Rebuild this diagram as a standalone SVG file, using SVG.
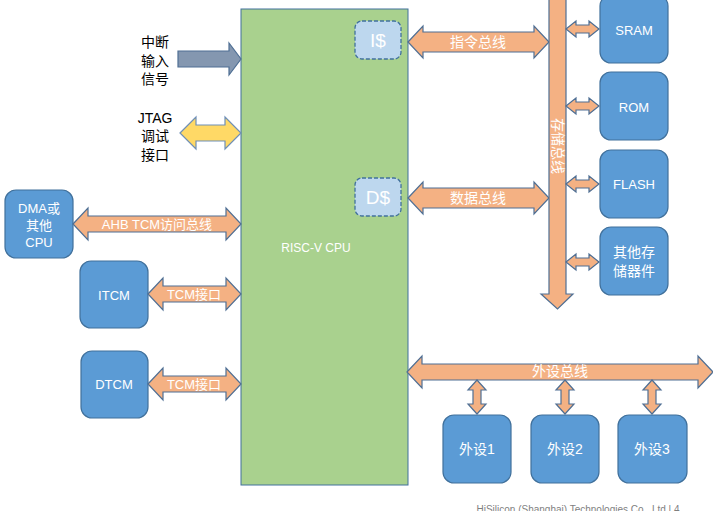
<svg xmlns="http://www.w3.org/2000/svg" width="713" height="511" viewBox="0 0 713 511">
<style>
text{font-family:"Liberation Sans","Noto Sans CJK SC",sans-serif;text-anchor:middle;dominant-baseline:central}
.box{fill:#5B9BD5;stroke:#41719C;stroke-width:1.2}
.wt{fill:#fff;font-size:13px}
.bus{fill:#F4B183;stroke:#4F6F94;stroke-width:1.2}
.bt{fill:#fff;font-size:14px}
.bk{fill:#000;font-size:14px}
.cache{fill:#BDD7EE;stroke:#41719C;stroke-width:1.3;stroke-dasharray:4 2}
</style>
<rect width="713" height="511" fill="#fff"/>
<g id="cpu">
<rect x="241" y="9" width="167" height="476" fill="#A9D18E" stroke="#41719C" stroke-width="1"/>
<text x="316" y="248" class="wt" style="font-size:12px">RISC-V CPU</text>
</g>
<g id="icache">
<rect x="355" y="21" width="46" height="38" rx="7" class="cache"/>
<text x="378" y="40" class="wt" style="font-size:19px">I$</text>
</g>
<g id="dcache">
<rect x="355" y="178" width="46" height="38" rx="7" class="cache"/>
<text x="378" y="197" class="wt" style="font-size:19px">D$</text>
</g>
<g id="sram"><rect x="600" y="-5" width="68" height="68" rx="11" class="box"/><text x="634" y="30" class="wt">SRAM</text></g>
<g id="rom"><rect x="600" y="72" width="68" height="68" rx="11" class="box"/><text x="634" y="107" class="wt">ROM</text></g>
<g id="flash"><rect x="600" y="150" width="68" height="68" rx="11" class="box"/><text x="634" y="184" class="wt">FLASH</text></g>
<g id="other-mem"><rect x="600" y="227" width="68" height="68" rx="11" class="box"/><text x="634" y="252" class="wt" style="font-size:14px">其他存</text><text x="634" y="271" class="wt" style="font-size:14px">储器件</text></g>
<g id="dma"><rect x="5" y="190" width="68" height="68" rx="11" class="box"/><text x="39" y="208" class="wt">DMA或</text><text x="39" y="225" class="wt">其他</text><text x="39" y="242" class="wt">CPU</text></g>
<g id="itcm"><rect x="80" y="261" width="68" height="67" rx="11" class="box"/><text x="114" y="295" class="wt">ITCM</text></g>
<g id="dtcm"><rect x="81" y="351" width="67" height="67" rx="11" class="box"/><text x="114" y="384" class="wt">DTCM</text></g>
<g id="p1"><rect x="443" y="415" width="68" height="68" rx="11" class="box"/><text x="477" y="449" class="wt" style="font-size:14px">外设1</text></g>
<g id="p2"><rect x="531" y="415" width="68" height="68" rx="11" class="box"/><text x="565" y="449" class="wt" style="font-size:14px">外设2</text></g>
<g id="p3"><rect x="618" y="415" width="69" height="68" rx="11" class="box"/><text x="652" y="449" class="wt" style="font-size:14px">外设3</text></g>
<g id="connectors">
<polygon class="bus" points="408,42 423,26 423,32 534,32 534,26 549,42 534,58 534,52 423,52 423,58"/>
<text x="478" y="42" class="bt">指令总线</text>
<polygon class="bus" points="408,198 423,182 423,188 534,188 534,182 549,198 534,214 534,208 423,208 423,214"/>
<text x="478" y="198" class="bt">数据总线</text>
<polygon class="bus" points="549,-5 566,-5 566,294 573,294 557.5,309 541,294 549,294"/>
<text x="557.5" y="146" class="bt" transform="rotate(90 557.5 146)">存储总线</text>
<polygon class="bus" points="566,29 576,21 576,25 589,25 589,21 599,29 589,37 589,33 576,33 576,37"/>
<polygon class="bus" points="566,106 576,98 576,102 589,102 589,98 599,106 589,114 589,110 576,110 576,114"/>
<polygon class="bus" points="566,184 576,176 576,180 589,180 589,176 599,184 589,192 589,188 576,188 576,192"/>
<polygon class="bus" points="566,262 576,254 576,258 589,258 589,254 599,262 589,270 589,266 576,266 576,270"/>
<polygon fill="#8497B0" stroke="#4F6F94" stroke-width="1.2" points="178,51 229,51 229,43 241,59 229,75 229,67 178,67"/>
<polygon fill="#FFD966" stroke="#6F8FB7" stroke-width="1.2" points="180,133 196,117 196,125 225,125 225,117 241,133 225,149 225,141 196,141 196,149"/>
<polygon class="bus" points="73,224 88,208 88,216 226,216 226,208 241,224 226,240 226,232 88,232 88,240"/>
<text x="157" y="224" class="bt" style="font-size:13px">AHB TCM访问总线</text>
<polygon class="bus" points="148,294 163,278 163,286 226,286 226,278 241,294 226,310 226,302 163,302 163,310"/>
<text x="194" y="294" class="bt" style="font-size:13px">TCM接口</text>
<polygon class="bus" points="148,384 163,368 163,376 226,376 226,368 241,384 226,400 226,392 163,392 163,400"/>
<text x="194" y="384" class="bt" style="font-size:13px">TCM接口</text>
<polygon class="bus" points="407,372 422,356 422,364 698,364 698,356 713,372 698,388 698,380 422,380 422,388"/>
<text x="560" y="371" class="bt">外设总线</text>
<polygon class="bus" points="477,380 486,390 481,390 481,404 486,404 477,414 468,404 473,404 473,390 468,390"/>
<polygon class="bus" points="565,380 574,390 569,390 569,404 574,404 565,414 556,404 561,404 561,390 556,390"/>
<polygon class="bus" points="652,380 661,390 656,390 656,404 661,404 652,414 643,404 648,404 648,390 643,390"/>
</g>
<g id="labels">
<text x="155" y="42" class="bk">中断</text>
<text x="155" y="61" class="bk">输入</text>
<text x="155" y="79" class="bk">信号</text>
<text x="155" y="118" class="bk">JTAG</text>
<text x="155" y="136" class="bk">调试</text>
<text x="155" y="155" class="bk">接口</text>
</g>
<text x="578" y="513" style="font-size:10px;fill:#7F7F7F;dominant-baseline:auto">HiSilicon (Shanghai) Technologies Co., Ltd | 4</text>
</svg>
